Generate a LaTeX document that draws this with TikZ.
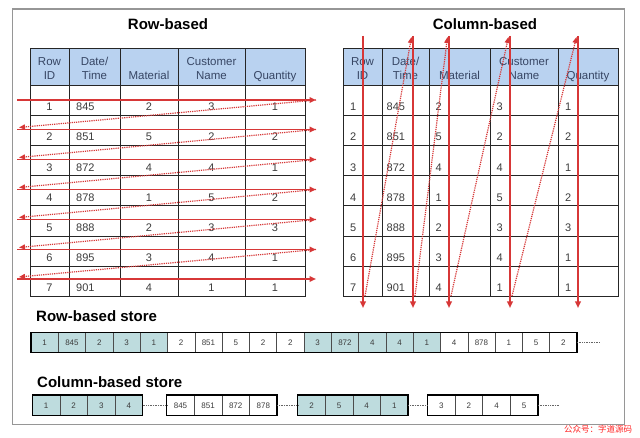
\documentclass[tikz,border=0pt]{standalone}
\usepackage{fontspec}
\setmainfont{Liberation Sans}
\newfontfamily\cjkfont{Noto Sans CJK SC}
\usetikzlibrary{arrows.meta}
\definecolor{hdrfill}{RGB}{185,210,240}
\definecolor{hdrtext}{RGB}{55,70,100}
\definecolor{celltext}{RGB}{60,60,60}
\definecolor{arrowred}{RGB}{215,55,55}
\definecolor{storeteal}{RGB}{190,220,222}
\definecolor{framegray}{RGB}{150,150,150}
\tikzset{
  tbl/.style={draw=black!85, line width=0.8pt, inner sep=0pt, outer sep=0pt},
  hdr/.style={tbl, fill=hdrfill},
  hdrtxt/.style={font=\fontsize{11.5}{14}\selectfont, text=hdrtext, align=center, inner sep=0pt},
  datatxt/.style={font=\fontsize{11}{13}\selectfont, text=celltext, inner sep=0pt},
  ttl/.style={font=\bfseries\fontsize{15}{18}\selectfont, inner sep=0pt},
  solidarr/.style={draw=arrowred, line width=1.6pt, -{Triangle[length=6.5pt,width=5.5pt]}},
  dotarr/.style={draw=arrowred, line width=1.2pt, densely dotted, -{Triangle[length=6pt,width=5pt]}},
  storecell/.style={draw=black!70, line width=0.6pt, inner sep=0pt, outer sep=0pt,
    font=\fontsize{8}{9}\selectfont, text=celltext},
  storeborder/.style={draw=black, line width=1.4pt},
  taildot/.style={draw=black!60, line width=0.7pt, densely dotted},
}
\begin{document}
\begin{tikzpicture}[x=1pt,y=-1pt]
\useasboundingbox (0,0) rectangle (640,438);
\fill[white] (0,0) rectangle (640,438);
\draw[framegray, line width=1.2pt] (12.7,9) rectangle (624.7,424.3);

% titles
\node[ttl, anchor=base] (t1) at (168,30) {Row-based};
\node[ttl, anchor=base] (t2) at (485,30) {Column-based};

% ---------- left table (row-based) ----------
\foreach \c/\xa/\xb in {1/30/69,2/69/120,3/120/178,4/178/245,5/245/305}{
  \node[hdr, minimum width={(\xb-\xa)*1pt}, minimum height=37pt] (LH\c) at ({(\xa+\xb)/2},66.5) {};
  \foreach \r in {1,...,7}{
    \node[tbl, minimum width={(\xb-\xa)*1pt}, minimum height=30.2pt] (L\r\c) at ({(\xa+\xb)/2},{85+(\r-0.5)*30.2}) {};
  }
}
\node[hdrtxt] (LHt1) at (49.5,68.7) {Row\\ID};
\node[hdrtxt] (LHt2) at (94.5,68.7) {Date/\\Time};
\node[hdrtxt, anchor=base] (LHt3) at (149,80) {Material};
\node[hdrtxt] (LHt4) at (211.5,68.7) {Customer\\Name};
\node[hdrtxt, anchor=base] (LHt5) at (275,80) {Quantity};
\foreach \r/\a/\b/\c/\d/\e in {1/1/845/2/3/1,2/2/851/5/2/2,3/3/872/4/4/1,4/4/878/1/5/2,5/5/888/2/3/3,6/6/895/3/4/1,7/7/901/4/1/1}{
  \node[datatxt, anchor=base] (LT\r-1) at (49.5,{85+\r*30.2-4.5}) {\a};
  \node[datatxt, anchor=base west] (LT\r-2) at (76,{85+\r*30.2-4.5}) {\b};
  \node[datatxt, anchor=base] (LT\r-3) at (149,{85+\r*30.2-4.5}) {\c};
  \node[datatxt, anchor=base] (LT\r-4) at (211.5,{85+\r*30.2-4.5}) {\d};
  \node[datatxt, anchor=base] (LT\r-5) at (275,{85+\r*30.2-4.5}) {\e};
}

% ---------- right table (column-based) ----------
\foreach \c/\xa/\xb in {1/343/382,2/382/429,3/429/490,4/490/558,5/558/618}{
  \node[hdr, minimum width={(\xb-\xa)*1pt}, minimum height=37pt] (RH\c) at ({(\xa+\xb)/2},66.5) {};
  \foreach \r in {1,...,7}{
    \node[tbl, minimum width={(\xb-\xa)*1pt}, minimum height=30.2pt] (R\r\c) at ({(\xa+\xb)/2},{85+(\r-0.5)*30.2}) {};
  }
}
\node[hdrtxt] (RHt1) at (362.5,68.7) {Row\\ID};
\node[hdrtxt] (RHt2) at (405.5,68.7) {Date/\\Time};
\node[hdrtxt, anchor=base] (RHt3) at (459.5,80) {Material};
\node[hdrtxt] (RHt4) at (524,68.7) {Customer\\Name};
\node[hdrtxt, anchor=base] (RHt5) at (588,80) {Quantity};
\foreach \r/\a/\b/\c/\d/\e in {1/1/845/2/3/1,2/2/851/5/2/2,3/3/872/4/4/1,4/4/878/1/5/2,5/5/888/2/3/3,6/6/895/3/4/1,7/7/901/4/1/1}{
  \node[datatxt, anchor=base west] (RT\r-1) at (350,{85+\r*30.2-4.5}) {\a};
  \node[datatxt, anchor=base west] (RT\r-2) at (386.5,{85+\r*30.2-4.5}) {\b};
  \node[datatxt, anchor=base west] (RT\r-3) at (435.5,{85+\r*30.2-4.5}) {\c};
  \node[datatxt, anchor=base west] (RT\r-4) at (496.5,{85+\r*30.2-4.5}) {\d};
  \node[datatxt, anchor=base west] (RT\r-5) at (565,{85+\r*30.2-4.5}) {\e};
}

% ---------- left arrows ----------
\foreach \i/\y in {1/100,2/129.5,3/159.5,4/189.5,5/219.5,6/249.5,7/279}{
  \coordinate (LA\i) at (17,\y);
  \coordinate (LB\i) at (316,\y);
  \coordinate (LC\i) at (19,\y-2);
}
\foreach \i in {1,...,7}{ \draw[solidarr] (LA\i) -- (LB\i); }
\foreach \i/\j in {1/2,2/3,3/4,4/5,5/6,6/7}{ \draw[dotarr] (LB\i) -- (LC\j); }

% ---------- right arrows ----------
\foreach \k/\x in {1/363,2/413,3/449,4/510,5/578}{
  \coordinate (VT\k) at (\x,36);
  \coordinate (VB\k) at (\x,308);
  \coordinate (VD\k) at (\x+2,296);
  \coordinate (VU\k) at (\x-1.5,37);
}
\foreach \k in {1,...,5}{ \draw[solidarr] (VT\k) -- (VB\k); }
\foreach \k/\j in {1/2,2/3,3/4,4/5}{ \draw[dotarr] (VD\k) -- (VU\j); }

% ---------- row-based store ----------
\node[ttl, anchor=base west] (RSL) at (36,322) {Row-based store};
\foreach \v [count=\i] in {1,845,2,3,1,2,851,5,2,2,3,872,4,4,1,4,878,1,5,2}{
  \pgfmathtruncatemacro\grp{floor((\i-1)/5)}
  \ifodd\grp\def\fc{white}\else\def\fc{storeteal}\fi
  \node[storecell, fill=\fc, minimum width=27.3pt, minimum height=20pt] (RS\i) at ({31+(\i-0.5)*27.3},342.7) {\v};
}
\draw[storeborder] (RS1.north west) rectangle (RS20.south east);
\coordinate (RSend) at (600,342.7);
\draw[taildot] (RS20.east) -- (RSend);

% ---------- column-based store ----------
\node[ttl, anchor=base west] (CSL) at (37,387) {Column-based store};
\foreach \g/\x/\fc/\vals in {1/32.3/storeteal/{1,2,3,4},2/166.7/white/{845,851,872,878},3/297.7/storeteal/{2,5,4,1},4/427.5/white/{3,2,4,5}}{
  \foreach \v [count=\i] in \vals{
    \node[storecell, fill=\fc, minimum width=27.6pt, minimum height=20.7pt] (CS\g-\i) at ({\x+(\i-0.5)*27.6},405.3) {\v};
  }
  \draw[storeborder] (CS\g-1.north west) rectangle (CS\g-4.south east);
}
\draw[taildot] (CS1-4.east) -- (CS2-1.west);
\draw[taildot] (CS2-4.east) -- (CS3-1.west);
\draw[taildot] (CS3-4.east) -- (CS4-1.west);
\coordinate (CSend) at (560,405.3);
\draw[taildot] (CS4-4.east) -- (CSend);

% watermark
\node[font=\cjkfont\fontsize{8.5}{10}\selectfont, text=red!80!pink, inner sep=0pt] (wm) at (598,429.5) {公众号：字道源码};
\end{tikzpicture}
\end{document}
